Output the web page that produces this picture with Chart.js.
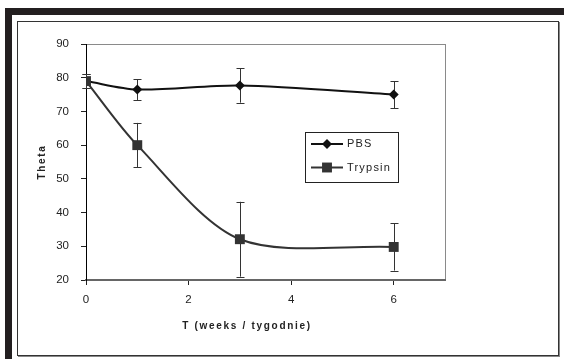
<!DOCTYPE html>
<html>
<head>
<meta charset="utf-8">
<script src="https://cdn.jsdelivr.net/npm/chart.js@4.4.1/dist/chart.umd.min.js"></script>
<style>
  html, body { margin: 0; padding: 0; background: #fff; }
  #wrap { position: relative; width: 564px; height: 359px; overflow: hidden; }
  .bar { position: absolute; background: #231f20; }
  #box { position: absolute; left: 17px; top: 21px; width: 540px; height: 333px;
         border: 1px solid #333; box-shadow: 1px 1px 0 #888; }
  canvas { position: absolute; left: 0; top: 0; }
</style>
</head>
<body>
<div id="wrap">
  <div class="bar" style="left:5px;top:8px;width:559px;height:7px"></div>
  <div class="bar" style="left:5px;top:8px;width:7px;height:351px"></div>
  <div id="box"></div>
  <canvas id="thetaChart" width="564" height="359"></canvas>
</div>
<script>
// time points (weeks)
var weeks = [0, 1, 3, 6];
// PBS
var pbsTheta = [79, 76.5, 77.7, 75];
var pbsErr = [2, 3.1, 5.1, 4];
// Trypsin
var trypsinTheta = [79, 60, 32.1, 29.8];
var trypsinErr = [2, 6.6, 11.1, 7];
// axis ticks
var xTicks = [0, 2, 4, 6];
var yMin = 20, yMax = 90, yStep = 10;
var xMin = 0, xMax = 7;

var FONT = '"Liberation Sans", Arial, sans-serif';

function toPoints(xs, ys) {
    return xs.map(function (x, i) { return { x: x, y: ys[i] }; });
}

// gray frame around plot area (top / right)
var plotFrame = {
    id: 'plotFrame',
    beforeDraw: function (chart) {
        var a = chart.chartArea, ctx = chart.ctx;
        ctx.save();
        ctx.strokeStyle = '#8a8a8a';
        ctx.lineWidth = 1;
        ctx.strokeRect(Math.round(a.left) + 0.5, Math.round(a.top) + 0.5,
            Math.round(a.right - a.left), Math.round(a.bottom - a.top));
        ctx.restore();
    }
};

// vertical error bars with caps
var errorBars = {
    id: 'errorBars',
    beforeDatasetsDraw: function (chart) {
        var ctx = chart.ctx, xs = chart.scales.x, ys = chart.scales.y;
        ctx.save();
        ctx.strokeStyle = '#333';
        ctx.lineWidth = 1;
        chart.data.datasets.forEach(function (ds) {
            ds.data.forEach(function (p, i) {
                var e = ds.errors[i];
                var px = Math.round(xs.getPixelForValue(p.x)) + 0.5;
                var top = ys.getPixelForValue(p.y + e);
                var bot = ys.getPixelForValue(p.y - e);
                ctx.beginPath();
                ctx.moveTo(px, top); ctx.lineTo(px, bot);
                ctx.moveTo(px - 4, Math.round(top) + 0.5); ctx.lineTo(px + 4, Math.round(top) + 0.5);
                ctx.moveTo(px - 4, Math.round(bot) + 0.5); ctx.lineTo(px + 4, Math.round(bot) + 0.5);
                ctx.stroke();
            });
        });
        ctx.restore();
    }
};

function marker(ctx, style, x, y, r, color) {
    ctx.fillStyle = color;
    ctx.beginPath();
    if (style === 'rect') {
        var s = Math.SQRT1_2 * r;
        ctx.rect(x - s, y - s, 2 * s, 2 * s);
    } else {
        ctx.moveTo(x - r, y); ctx.lineTo(x, y - r);
        ctx.lineTo(x + r, y); ctx.lineTo(x, y + r);
        ctx.closePath();
    }
    ctx.fill();
}

// axis titles and in-plot legend
var extras = {
    id: 'extras',
    afterDraw: function (chart) {
        var ctx = chart.ctx;
        ctx.save();
        ctx.fillStyle = '#222';
        ctx.font = 'bold 10px ' + FONT;
        ctx.letterSpacing = '1.7px';
        ctx.textAlign = 'center';
        ctx.textBaseline = 'middle';
        ctx.fillText('T (weeks / tygodnie)', 247, 326);
        ctx.save();
        ctx.translate(42, 162);
        ctx.rotate(-Math.PI / 2);
        ctx.fillText('Theta', 0, 0);
        ctx.restore();

        // legend
        ctx.strokeStyle = '#222';
        ctx.lineWidth = 1;
        ctx.strokeRect(305.5, 132.5, 93, 50);
        ctx.font = '11px ' + FONT;
        ctx.letterSpacing = '1.2px';
        ctx.textAlign = 'left';
        chart.data.datasets.forEach(function (ds, i) {
            var y = 144 + i * 23.5;
            ctx.strokeStyle = ds.borderColor;
            ctx.lineWidth = 2;
            ctx.beginPath();
            ctx.moveTo(311, y); ctx.lineTo(343, y);
            ctx.stroke();
            marker(ctx, ds.pointStyle, 327, y, ds.pointRadius, ds.pointBackgroundColor);
            ctx.fillStyle = '#222';
            ctx.fillText(ds.label, 347, y);
        });
        ctx.restore();
    }
};

var ctx = document.getElementById('thetaChart');
var thetaChart = new Chart(ctx, {
    type: 'line',
    data: {
        datasets: [{
            label: 'PBS',
            data: toPoints(weeks, pbsTheta),
            errors: pbsErr,
            borderColor: '#111',
            borderWidth: 2,
            pointStyle: 'rectRot',
            pointRadius: 5,
            pointBackgroundColor: '#111',
            pointBorderWidth: 0,
            tension: 0.3,
            order: 1
        }, {
            label: 'Trypsin',
            data: toPoints(weeks, trypsinTheta),
            errors: trypsinErr,
            borderColor: '#333',
            borderWidth: 2,
            pointStyle: 'rect',
            pointRadius: 7,
            pointBackgroundColor: '#333',
            pointBorderWidth: 0,
            tension: 0.3,
            order: 0
        }]
    },
    options: {
        responsive: false,
        animation: false,
        devicePixelRatio: 1,
        layout: { padding: { left: 17, top: 44, right: 119, bottom: 4 } },
        plugins: { legend: { display: false }, tooltip: { enabled: false } },
        scales: {
            x: {
                type: 'linear',
                min: xMin,
                max: xMax,
                afterBuildTicks: function (scale) {
                    scale.ticks = xTicks.map(function (v) { return { value: v }; });
                },
                afterFit: function (scale) { scale.height = 75; },
                border: { color: '#666', width: 2 },
                grid: { drawOnChartArea: false, tickLength: 5, color: '#222' },
                ticks: { color: '#222', padding: 8, font: { family: FONT, size: 11.5 } }
            },
            y: {
                min: yMin,
                max: yMax,
                afterFit: function (scale) { scale.width = 69; },
                border: { color: '#000', width: 1 },
                grid: { drawOnChartArea: false, tickLength: 5, color: '#222' },
                ticks: { stepSize: yStep, color: '#222', padding: 12, font: { family: FONT, size: 11.5 } }
            }
        }
    },
    plugins: [plotFrame, errorBars, extras]
});
</script>
</body>
</html>
